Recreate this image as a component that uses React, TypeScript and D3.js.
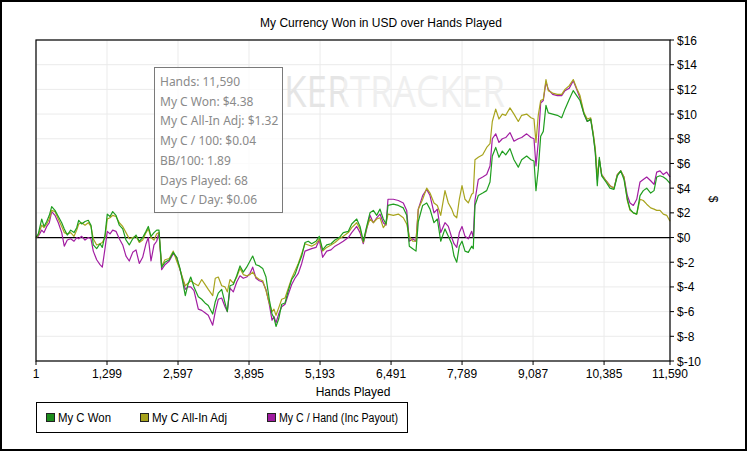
import React from "react";
import * as d3 from "d3";

const hands = [1,43,105,147,197,244,288,348,409,471,518,573,635,696,745,782,836,897,957,1006,1048,1110,1171,1213,1262,1304,1354,1403,1463,1524,1586,1646,1706,1769,1829,1889,1951,2012,2054,2103,2158,2207,2249,2298,2359,2437,2510,2573,2633,2683,2730,2779,2829,2889,2968,3030,3090,3150,3231,3278,3333,3395,3456,3498,3547,3608,3670,3730,3790,3852,3913,3962,4022,4083,4145,4205,4265,4315,4351,4388,4437,4492,4553,4613,4675,4735,4796,4858,4918,4978,5040,5119,5179,5241,5315,5393,5466,5545,5618,5710,5772,5863,5924,5984,6046,6106,6167,6229,6289,6349,6399,6435,6532,6624,6715,6777,6825,6887,6947,6989,7069,7143,7203,7276,7337,7399,7477,7538,7600,7642,7692,7739,7788,7843,7903,7965,7994,8025,8086,8166,8239,8300,8342,8404,8464,8525,8587,8665,8738,8817,8879,8970,9049,9104,9140,9182,9226,9274,9323,9365,9445,9530,9610,9670,9749,9822,9884,9945,10018,10078,10140,10188,10224,10261,10298,10341,10420,10493,10566,10627,10689,10749,10810,10859,10920,10982,11042,11102,11164,11237,11298,11347,11407,11468,11530,11590];

const myCWon = [0,0.3,1.5,0.9,1.3,1.8,2.5,2.2,1.7,1.2,0.7,0.2,0.6,0.4,0.8,1.4,1.1,1.3,1.4,1.0,-0.6,-0.9,-0.5,-0.8,0.2,1.9,1.7,2.1,1.8,1.0,0.7,-0.2,-0.6,-0.1,0.2,-0.3,0.0,0.5,0.9,0.1,0.4,0.6,0.6,-2.4,-2.0,-1.8,-1.2,-1.6,-2.5,-3.6,-4.7,-3.8,-3.2,-4.0,-4.8,-5.0,-5.3,-5.5,-6.2,-5.2,-4.5,-4.2,-5.3,-6.0,-3.9,-3.8,-3.1,-2.3,-2.8,-2.4,-1.9,-1.5,-2.2,-2.3,-2.5,-3.2,-5.0,-6.2,-6.5,-7.2,-6.6,-5.4,-5.3,-4.3,-3.4,-3.0,-2.2,-1.5,-0.4,-0.3,-0.5,-0.3,0.1,-1.0,-0.6,-0.5,-0.2,0.0,0.4,0.5,1.1,1.5,0.9,-0.3,0.9,2.0,2.2,1.8,2.3,1.5,1.1,2.6,2.7,2.6,2.4,1.8,-0.7,-0.9,-1.1,1.3,2.6,2.8,2.3,1.2,1.5,-0.3,0.7,0.1,-0.5,-1.5,-2.0,-0.7,-0.3,-1.1,-1.2,-0.7,-0.9,2.6,3.4,3.6,3.8,4.5,6.6,7.3,6.5,7.0,6.7,7.2,6.3,5.7,6.3,6.6,6.3,6.2,3.8,5.5,8.2,8.6,10.7,10.1,10.0,9.9,9.7,10.4,11.2,11.9,11.5,11.1,10.0,9.4,9.6,8.2,6.9,4.2,6.5,5.0,4.5,4.0,3.9,5.0,5.4,4.7,3.1,2.3,2.0,1.9,3.4,3.8,4.0,3.6,3.8,4.9,5.0,4.9,4.7,4.38];

const allInAdj = [0,0.2,1.0,0.8,1.1,1.5,2.2,2.1,1.5,0.9,0.4,0.3,0.4,0.1,0.6,1.1,1.2,1.0,1.2,0.9,-0.1,-0.6,-0.5,-0.4,0.0,1.5,1.6,1.8,1.7,1.2,0.9,0.4,-0.1,0.0,0.1,-0.4,-0.2,0.4,0.7,0.0,-0.2,0.3,0.4,-2.3,-1.8,-1.7,-1.1,-1.9,-2.6,-3.3,-3.9,-3.7,-3.5,-3.7,-3.9,-3.4,-3.8,-4.2,-4.7,-3.3,-3.2,-3.9,-4.0,-4.4,-3.4,-3.7,-3.2,-2.5,-3.0,-3.1,-3.0,-2.8,-3.2,-3.4,-3.5,-4.3,-5.3,-6.0,-5.8,-6.3,-5.7,-5.0,-4.9,-4.1,-3.3,-2.7,-2.1,-1.3,-0.5,-0.6,-0.7,-0.5,-0.1,-1.1,-0.8,-0.6,-0.4,-0.1,0.1,0.4,0.8,1.2,0.7,-0.4,0.8,1.5,1.2,1.5,1.6,0.8,1.1,1.9,1.8,1.9,1.6,1.1,0.1,-0.3,-0.3,2.3,3.1,4.0,3.6,2.8,2.6,1.8,3.8,2.8,2.3,1.8,1.6,3.1,4.2,3.1,2.8,3.5,3.6,6.3,6.5,6.7,7.3,7.6,9.4,10.4,9.6,10.0,9.9,10.5,10.0,9.4,9.9,10.0,9.7,9.6,7.7,9.9,11.1,11.2,12.8,11.9,11.7,11.6,11.6,12.0,12.3,12.8,12.1,11.5,10.1,9.6,9.7,8.4,7.2,5.0,6.3,5.1,4.6,4.2,4.0,5.1,5.4,4.9,3.0,2.2,2.0,1.9,3.1,3.0,2.7,2.4,2.3,2.2,2.2,1.9,1.8,1.32];

const perHand = [0,0.1,0.6,0.4,0.9,1.2,2.1,1.8,1.2,0.4,-0.7,-0.2,-0.1,-0.3,0.0,-0.1,0.1,-0.2,0.0,-0.1,-1.1,-1.8,-2.2,-2.4,-0.9,0.5,0.3,0.6,0.5,-0.1,-0.6,-1.5,-1.9,-1.2,-1.0,-2.1,-1.6,-0.5,0.0,-1.9,-0.6,-0.3,0.4,-2.6,-2.2,-1.9,-1.3,-1.6,-2.6,-3.4,-4.2,-4.0,-4.0,-4.3,-5.8,-5.9,-6.1,-6.3,-7.1,-6.0,-5.0,-4.9,-5.6,-6.0,-4.1,-4.4,-3.6,-3.1,-3.3,-3.2,-2.9,-2.4,-3.3,-3.5,-3.6,-4.2,-5.4,-6.7,-6.4,-6.9,-6.2,-5.6,-5.4,-4.6,-3.8,-3.3,-2.9,-2.1,-1.1,-1.0,-0.9,-0.8,-0.2,-1.6,-1.1,-1.0,-0.7,-0.5,-0.3,0.0,0.4,0.9,0.4,-0.5,0.7,1.8,1.2,1.6,1.9,1.2,1.0,3.1,3.1,3.0,2.8,2.2,-0.3,-0.1,-0.3,2.3,3.4,3.9,3.4,2.0,2.3,0.4,1.2,0.9,0.0,-0.5,-0.8,0.4,0.9,0.1,-0.1,0.5,0.0,3.0,4.7,4.9,5.1,5.8,8.0,8.4,7.7,8.0,8.1,8.5,7.8,8.0,8.1,8.4,8.1,8.0,5.8,7.7,10.9,11.1,12.6,12.0,11.6,11.5,11.5,11.9,12.1,12.7,12.0,11.3,10.0,9.4,9.6,8.3,7.0,4.7,6.3,5.1,4.6,4.2,4.0,5.1,5.4,4.9,3.4,2.8,2.6,3.1,4.5,4.7,4.9,4.6,4.3,5.3,5.4,5.1,5.3,4.9];

const xTickValues = [1, 1299, 2597, 3895, 5193, 6491, 7789, 9087, 10385, 11590];
const yTickValues = [-10, -8, -6, -4, -2, 0, 2, 4, 6, 8, 10, 12, 14, 16];

const seriesNames = ["My C Won", "My C All-In Adj", "My C / Hand (Inc Payout)"];
const seriesColors = ["#1f9e1f", "#a8a41e", "#a21ea2"];
const legendFills = ["#1c8c1c", "#a6a21c", "#a01ca0"];

const tooltipLines = [
  "Hands: 11,590",
  "My C Won: $4.38",
  "My C All-In Adj: $1.32",
  "My C / 100: $0.04",
  "BB/100: 1.89",
  "Days Played: 68",
  "My C / Day: $0.06",
];

const W = 749;
const H = 452;
const L = 36, R = 670, T = 40, B = 361;

export default function App() {
  const x = d3.scaleLinear().domain([1, 11590]).range([L, R]);
  const y = d3.scaleLinear().domain([-10, 16]).range([B, T]);
  const fmt = d3.format(",");
  const allSeries = [myCWon, allInAdj, perHand];
  const makeLine = (vals: number[]) =>
    d3.line<number>().x((_, i) => x(hands[i])).y((d) => y(d))(vals) || "";
  const axisFont = "'Liberation Sans', Arial, sans-serif";
  const tipFont = "'Noto Sans', 'Open Sans', sans-serif";
  const drawOrder = [2, 1, 0];
  const legendX = [46, 140, 267];
  const legendTextW = [53, 75, 119];

  return (
    <svg width={W} height={H} style={{ position: "absolute", left: 0, top: 0, background: "#fff" }}>
      <defs>
        <linearGradient id="wm" gradientUnits="userSpaceOnUse" x1={284} y1={0} x2={505} y2={0}>
          <stop offset="0.27" stopColor="#e5e5e5" />
          <stop offset="0.27" stopColor="#efefef" />
        </linearGradient>
      </defs>
      <rect x={0} y={0} width={W} height={H} fill="#fff" />
      <rect x={1} y={1} width={745} height={449} fill="none" stroke="#000" strokeWidth={2} />
      <text x={381} y={27} textAnchor="middle" fontFamily={axisFont} fontSize={12} fill="#000">
        My Currency Won in USD over Hands Played
      </text>
      {/* grid */}
      {xTickValues.map((t) => (
        <line key={"gx" + t} x1={x(t)} x2={x(t)} y1={T} y2={B} stroke="#ebebeb" strokeWidth={1} />
      ))}
      {yTickValues.map((t) => (
        <line key={"gy" + t} x1={L} x2={R} y1={y(t)} y2={y(t)} stroke="#ebebeb" strokeWidth={1} />
      ))}
      {/* watermark */}
      <text x={284} y={107} fontFamily="'Open Sans', sans-serif" fontSize={44} fill="url(#wm)" textLength={221} lengthAdjust="spacingAndGlyphs">
        KERTRACKER
      </text>
      {/* zero line */}
      <line x1={L} x2={R} y1={y(0)} y2={y(0)} stroke="#000" strokeWidth={1.2} />
      {/* series */}
      {drawOrder.map((i) => (
        <path key={"s" + i} d={makeLine(allSeries[i])} fill="none" stroke={seriesColors[i]} strokeWidth={1.2} strokeLinejoin="round" />
      ))}
      {/* tooltip */}
      <rect x={154.5} y={67.5} width={128} height={145} fill="#fff" fillOpacity={0.8} stroke="#7a7a7a" strokeWidth={1} />
      {tooltipLines.map((s, i) => (
        <text key={"tt" + i} x={160} y={86 + i * 19.7} fontFamily={tipFont} fontSize={12} fill="#8a8a8a">
          {s}
        </text>
      ))}
      {/* frame */}
      <rect x={L} y={T} width={R - L} height={B - T} fill="none" stroke="#000" strokeWidth={1.2} />
      {/* right axis */}
      {yTickValues.map((t) => (
        <g key={"yt" + t}>
          <line x1={R} x2={R + 4} y1={y(t)} y2={y(t)} stroke="#000" />
          <text x={677} y={y(t) + 4.5} fontFamily={axisFont} fontSize={12} fill="#000">
            {"$" + t}
          </text>
        </g>
      ))}
      <text transform={`translate(709,199) rotate(90)`} textAnchor="middle" fontFamily={axisFont} fontSize={12} fill="#000">
        $
      </text>
      {/* bottom axis */}
      {xTickValues.map((t) => (
        <g key={"xt" + t}>
          <line x1={x(t)} x2={x(t)} y1={B} y2={B + 4} stroke="#000" />
          <text x={x(t)} y={378} textAnchor="middle" fontFamily={axisFont} fontSize={12} fill="#000">
            {fmt(t)}
          </text>
        </g>
      ))}
      <text x={(L + R) / 2} y={396} textAnchor="middle" fontFamily={axisFont} fontSize={12} fill="#000">
        Hands Played
      </text>
      {/* legend */}
      <rect x={36.5} y={402.5} width={371} height={30} fill="#fff" stroke="#000" strokeWidth={1} />
      {seriesNames.map((n, i) => (
        <g key={"lg" + i}>
          <rect x={legendX[i] + 0.5} y={413.5} width={8} height={8} fill={legendFills[i]} stroke="#222" strokeWidth={1} />
          <text x={legendX[i] + 12} y={422} fontFamily={axisFont} fontSize={12} fill="#000" textLength={legendTextW[i]} lengthAdjust="spacingAndGlyphs">
            {n}
          </text>
        </g>
      ))}
    </svg>
  );
}
